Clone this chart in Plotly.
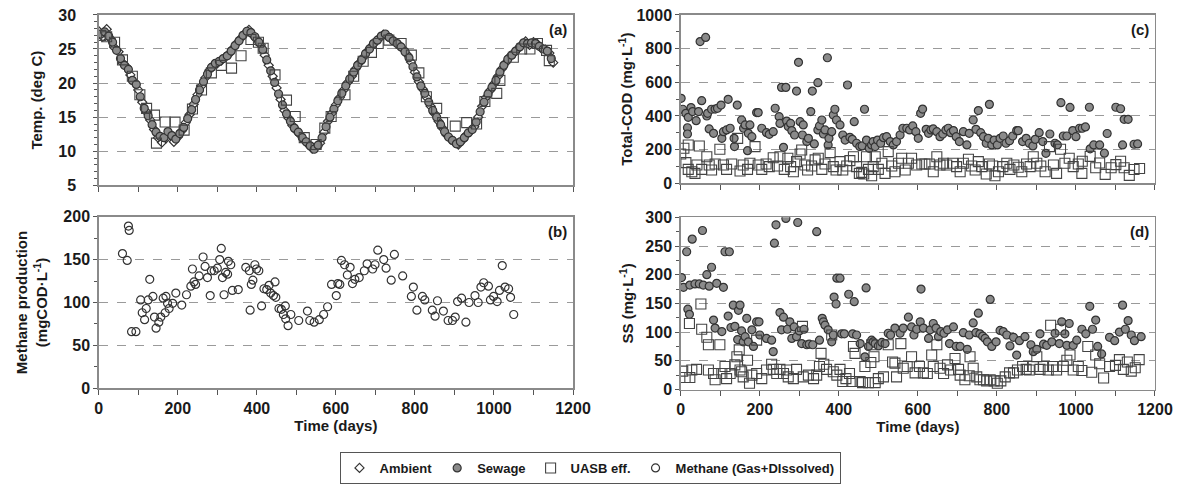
import plotly.graph_objects as go

# ---------------- (a) Temperature ----------------
amb_day = [0, 10, 20, 30, 40, 50, 60, 70, 80, 90,
           100, 110, 120, 130, 140, 150, 160, 170, 180, 190,
           200, 210, 220, 230, 240, 250, 260, 270, 280, 290,
           300, 310, 320, 330, 340, 350, 360, 370, 380, 390,
           400, 410, 420, 430, 440, 450, 460, 470, 480, 490,
           500, 510, 520, 530, 540, 550, 560, 570, 580, 590,
           600, 610, 620, 630, 640, 650, 660, 670, 680, 690,
           700, 710, 720, 730, 740, 750, 760, 770, 780, 790,
           800, 810, 820, 830, 840, 850, 860, 870, 880, 890,
           900, 910, 920, 930, 940, 950, 960, 970, 980, 990,
           1000, 1010, 1020, 1030, 1040, 1050, 1060, 1070, 1080, 1090,
           1100, 1110, 1120, 1130, 1140, 1150]
amb_temp = [27.6, 26.8, 27.9, 26.5, 25.2, 24.6, 23.0, 22.4, 21.2, 20.1,
            19.0, 17.2, 15.8, 14.6, 13.2, 12.0, 11.3, 11.9, 12.6, 11.4,
            12.1, 13.0, 14.2, 15.4, 16.9, 18.3, 19.6, 20.8, 21.9, 22.6,
            22.9, 23.3, 23.8, 24.3, 25.1, 25.9, 26.6, 27.3, 27.8, 27.0,
            26.4, 25.6, 24.1, 22.6, 21.0, 19.3, 17.6, 16.0, 14.9, 13.8,
            13.0, 12.4, 11.6, 11.0, 10.4, 10.6, 11.2, 12.8, 14.4, 15.6,
            16.8, 17.9, 19.0, 20.1, 21.0, 22.1, 23.0, 23.8, 24.7, 25.4,
            26.0, 26.6, 27.1, 26.9, 26.5, 26.0, 25.6, 25.0, 24.2, 23.1,
            21.6, 20.2, 19.1, 17.9, 16.6, 15.5, 14.4, 13.4, 12.4, 11.8,
            11.3, 11.0, 11.6, 12.4, 12.9, 13.6, 15.0, 16.6, 17.9, 18.9,
            19.9, 21.0, 22.1, 23.0, 23.9, 24.4, 25.0, 25.6, 26.1, 25.6,
            26.0, 25.7, 25.1, 24.9, 24.4, 23.0]

sew_t_day = [5, 15, 25, 35, 45, 55, 65, 75, 85, 95,
             105, 115, 125, 135, 145, 155, 165, 175, 185, 195,
             205, 215, 225, 235, 245, 255, 265, 275, 285, 295,
             305, 315, 325, 335, 345, 355, 365, 375, 385, 395,
             405, 415, 425, 435, 445, 455, 465, 475, 485, 495,
             505, 515, 525, 535, 545, 555, 565, 575, 585, 595,
             605, 615, 625, 635, 645, 655, 665, 675, 685, 695,
             705, 715, 725, 735, 745, 755, 765, 775, 785, 795,
             805, 815, 825, 835, 845, 855, 865, 875, 885, 895,
             905, 915, 925, 935, 945, 955, 965, 975, 985, 995,
             1005, 1015, 1025, 1035, 1045, 1055, 1065, 1075, 1085, 1095,
             1105, 1115, 1125, 1135, 1145]
sew_temp = [27.2, 27.5, 26.9, 26.0, 24.8, 23.6, 22.6, 22.0, 20.4, 19.8,
            18.0, 16.3, 15.2, 13.9, 12.8, 12.2, 12.0, 12.9, 12.3, 11.8,
            12.6, 13.5, 14.8, 16.1, 17.6, 19.0, 20.2, 21.3, 22.3, 22.9,
            23.2, 23.6, 24.0, 24.7, 25.5, 26.2, 27.0, 27.6, 27.4, 26.8,
            26.0, 24.9, 23.4, 21.8, 20.1, 18.4, 16.8, 15.5, 14.4, 13.4,
            12.8, 12.0, 11.4, 10.8, 10.3, 10.9, 12.0, 13.6, 15.0, 16.2,
            17.4, 18.5, 19.6, 20.6, 21.6, 22.6, 23.4, 24.3, 25.0, 25.8,
            26.3, 26.9, 27.2, 26.7, 26.2, 25.8, 25.3, 24.6, 23.7, 22.4,
            20.9, 19.6, 18.5, 17.2, 16.0, 15.0, 13.9, 12.9, 12.1, 11.6,
            11.1, 11.4, 12.0, 12.7, 13.2, 14.3, 15.8, 17.2, 18.4, 19.4,
            20.4, 21.6, 22.6, 23.5, 24.1, 24.7, 25.3, 25.9, 25.8, 25.9,
            25.8, 25.4, 25.0, 24.7, 23.6]

uasb_t_day = [5, 20, 40, 60, 85, 104, 121, 141, 146, 168,
              193, 216, 237, 260, 285, 310, 336, 360, 385, 404,
              416, 446, 475, 497, 520, 550, 572, 588, 623, 645,
              669, 690, 707, 734, 765, 791, 810, 829, 855, 870,
              902, 931, 956, 977, 1007, 1015, 1049, 1070, 1091, 1110,
              1133, 1140]
uasb_temp = [27.0, 26.8, 26.0, 23.4, 21.0, 18.3, 16.3, 15.3, 11.2, 14.3,
             14.3, 13.1, 16.2, 19.0, 21.5, 22.6, 22.2, 24.0, 26.4, 26.0,
             25.1, 21.2, 17.5, 15.1, 12.0, 11.0, 13.4, 15.1, 18.3, 21.0,
             23.2, 24.5, 25.8, 26.3, 25.8, 24.1, 21.5, 18.0, 16.3, 14.2,
             13.7, 14.2, 14.0, 17.3, 18.5, 20.4, 23.8, 25.0, 25.0, 25.8,
             24.8, 23.3]

# ---------------- (b) Methane ----------------
meth_day = [60, 72, 75, 77, 83, 94, 106, 110, 116, 120,
            125, 129, 137, 141, 145, 152, 157, 163, 168, 170,
            174, 178, 187, 195, 210, 222, 233, 237, 241, 245,
            254, 264, 269, 275, 282, 285, 292, 300, 306, 310,
            313, 317, 321, 326, 328, 334, 338, 353, 372, 381,
            383, 386, 390, 395, 399, 405, 412, 418, 425, 431,
            435, 442, 446, 448, 456, 462, 467, 472, 473, 479,
            486, 506, 528, 534, 545, 558, 569, 579, 589, 601,
            605, 610, 614, 622, 629, 636, 642, 648, 659, 672,
            679, 693, 699, 706, 721, 727, 740, 748, 769, 791,
            796, 805, 819, 825, 844, 851, 857, 872, 884, 895,
            902, 908, 918, 929, 937, 952, 960, 967, 974, 986,
            991, 999, 1008, 1014, 1021, 1028, 1037, 1042, 1050]
meth_val = [157, 149, 189, 184, 66, 66, 103, 88, 80, 93,
            103, 127, 107, 83, 70, 77, 83, 105, 88, 107,
            99, 93, 99, 111, 97, 109, 119, 139, 124, 121,
            131, 153, 142, 129, 108, 137, 137, 140, 150, 163,
            129, 109, 135, 133, 148, 144, 114, 115, 141, 137,
            91, 121, 126, 144, 139, 137, 96, 116, 115, 120,
            111, 108, 124, 106, 93, 92, 86, 96, 81, 73,
            86, 79, 90, 79, 77, 80, 86, 95, 121, 108,
            122, 121, 149, 144, 132, 141, 122, 127, 129, 137,
            145, 139, 144, 161, 150, 140, 126, 156, 131, 107,
            118, 91, 107, 103, 91, 84, 102, 90, 79, 79,
            83, 101, 105, 77, 100, 108, 100, 118, 123, 119,
            103, 107, 101, 114, 143, 118, 116, 106, 86]

# ---------------- (c) Total COD ----------------
cod_s_day = [1, 5, 13, 17, 17, 19, 26, 30, 39, 45,
             49, 53, 63, 66, 68, 72, 78, 83, 87, 93,
             102, 104, 108, 116, 120, 125, 135, 136, 143, 154,
             159, 163, 169, 171, 175, 180, 192, 196, 205, 217,
             224, 234, 239, 249, 251, 255, 260, 266, 268, 272,
             278, 281, 288, 293, 298, 302, 308, 310, 319, 323,
             329, 333, 338, 347, 347, 351, 357, 361, 365, 371,
             373, 375, 382, 386, 390, 394, 403, 410, 416, 422,
             428, 434, 439, 445, 453, 459, 465, 470, 477, 483,
             487, 492, 498, 506, 513, 521, 530, 538, 546, 555,
             562, 572, 579, 587, 595, 601, 607, 612, 621, 627,
             633, 639, 648, 656, 663, 671, 677, 683, 690, 697,
             705, 715, 724, 730, 740, 747, 753, 759, 766, 773,
             778, 781, 787, 793, 801, 808, 816, 823, 832, 840,
             850, 854, 865, 874, 882, 891, 897, 907, 916, 924,
             934, 947, 953, 962, 968, 977, 985, 992, 1000, 1009,
             1016, 1024, 1034, 1036, 1045, 1060, 1072, 1079, 1101, 1113,
             1118, 1122, 1132, 1147, 1156]
cod_s_val = [505, 440, 416, 330, 293, 392, 450, 426, 372, 426,
             842, 491, 867, 400, 416, 323, 440, 297, 441, 446,
             465, 267, 307, 317, 499, 327, 267, 218, 465, 376,
             327, 347, 194, 297, 347, 277, 420, 420, 327, 301,
             291, 307, 446, 396, 356, 570, 214, 570, 370, 337,
             356, 313, 287, 548, 719, 366, 287, 347, 248, 267,
             426, 548, 234, 598, 317, 341, 376, 293, 317, 746,
             228, 267, 307, 406, 440, 376, 347, 287, 257, 584,
             273, 261, 366, 238, 218, 222, 440, 257, 208, 228,
             248, 218, 257, 238, 271, 277, 248, 228, 248, 287,
             327, 327, 317, 341, 307, 267, 416, 441, 321, 297,
             317, 323, 307, 277, 293, 317, 327, 301, 313, 277,
             248, 307, 228, 297, 376, 321, 432, 301, 277, 238,
             267, 469, 228, 257, 228, 267, 281, 238, 253, 281,
             313, 313, 248, 267, 238, 222, 261, 301, 248, 178,
             293, 238, 228, 479, 281, 281, 451, 313, 277, 327,
             327, 335, 452, 205, 228, 228, 179, 296, 452, 443,
             228, 380, 380, 232, 234]

cod_u_day = [0, 8, 13, 19, 19, 28, 36, 41, 47, 53,
             66, 72, 78, 87, 99, 108, 116, 129, 144, 150,
             158, 169, 175, 188, 196, 205, 216, 224, 234, 245,
             251, 262, 271, 278, 285, 293, 302, 306, 314, 321,
             331, 340, 348, 357, 365, 378, 386, 393, 403, 410,
             420, 428, 437, 445, 452, 458, 463, 470, 475, 483,
             487, 492, 500, 509, 517, 525, 534, 542, 551, 559,
             568, 576, 584, 597, 610, 618, 629, 639, 648, 656,
             665, 673, 688, 698, 707, 715, 728, 736, 745, 753,
             762, 773, 781, 789, 795, 804, 815, 825, 833, 843,
             854, 863, 875, 884, 892, 901, 911, 922, 933, 943,
             951, 961, 972, 983, 993, 1006, 1015, 1016, 1036, 1050,
             1060, 1074, 1089, 1101, 1113, 1122, 1135, 1147, 1161]
cod_u_val = [174, 208, 123, 228, 83, 69, 59, 109, 222, 83,
             158, 109, 79, 115, 202, 109, 83, 115, 267, 73,
             109, 83, 119, 218, 109, 83, 115, 99, 152, 103,
             158, 83, 149, 99, 69, 129, 174, 198, 109, 79,
             103, 139, 149, 83, 115, 182, 99, 79, 129, 79,
             103, 135, 158, 99, 59, 65, 55, 158, 83, 45,
             99, 158, 83, 119, 59, 188, 103, 69, 119, 149,
             79, 119, 149, 109, 115, 115, 115, 69, 158, 109,
             119, 109, 119, 99, 69, 119, 143, 103, 79, 129,
             99, 55, 115, 103, 45, 69, 99, 119, 83, 109,
             95, 69, 115, 99, 158, 119, 103, 69, 218, 109,
             59, 202, 119, 149, 99, 115, 59, 131, 160, 92,
             121, 53, 92, 111, 131, 92, 47, 82, 88]

# ---------------- (d) SS ----------------
ss_s_day = [2, 7, 15, 18, 22, 23, 29, 36, 47, 55,
            57, 66, 72, 78, 83, 87, 91, 104, 108, 112,
            120, 123, 127, 133, 137, 144, 146, 150, 154, 158,
            163, 167, 171, 180, 184, 192, 198, 200, 217, 230,
            234, 237, 241, 251, 255, 260, 266, 270, 276, 281,
            287, 293, 296, 300, 306, 312, 319, 325, 334, 344,
            351, 358, 361, 365, 373, 382, 386, 388, 393, 395,
            403, 407, 414, 425, 435, 439, 445, 454, 466, 469,
            475, 483, 487, 492, 500, 509, 517, 525, 531, 542,
            555, 563, 576, 584, 590, 597, 606, 608, 614, 627,
            631, 639, 646, 652, 658, 666, 675, 680, 690, 697,
            707, 715, 725, 730, 740, 747, 753, 757, 764, 770,
            776, 783, 787, 798, 808, 816, 825, 833, 842, 850,
            857, 871, 886, 892, 901, 909, 918, 926, 939, 947,
            958, 964, 972, 977, 983, 993, 1002, 1015, 1025, 1035,
            1042, 1050, 1055, 1065, 1085, 1098, 1110, 1118, 1125, 1132,
            1140, 1148, 1165]
ss_s_val = [195, 178, 240, 140, 131, 182, 262, 184, 184, 277,
            182, 200, 180, 213, 121, 107, 185, 101, 178, 240,
            128, 240, 108, 147, 110, 87, 138, 147, 102, 83,
            92, 124, 83, 104, 75, 118, 118, 95, 89, 86,
            66, 255, 287, 134, 104, 126, 298, 105, 118, 89,
            109, 92, 291, 102, 80, 105, 78, 79, 78, 275,
            86, 124, 118, 112, 104, 83, 95, 161, 149, 194,
            194, 97, 97, 166, 97, 153, 95, 80, 57, 177,
            75, 86, 83, 80, 76, 82, 80, 98, 95, 107,
            98, 107, 126, 109, 95, 105, 118, 175, 107, 89,
            104, 115, 107, 92, 101, 98, 104, 80, 109, 75,
            75, 99, 70, 95, 116, 99, 133, 97, 93, 89,
            83, 157, 75, 83, 103, 101, 95, 76, 91, 60,
            85, 92, 78, 66, 70, 97, 79, 77, 83, 98,
            80, 118, 97, 77, 115, 77, 86, 105, 97, 145,
            105, 121, 75, 62, 91, 85, 100, 147, 105, 120,
            95, 85, 92]

ss_u_day = [5, 11, 22, 23, 28, 40, 51, 53, 66, 70,
            70, 83, 87, 99, 104, 112, 116, 125, 137, 142,
            148, 150, 154, 158, 169, 174, 180, 192, 192, 205,
            217, 230, 234, 243, 251, 260, 268, 272, 285, 293,
            308, 310, 323, 336, 344, 351, 355, 362, 369, 382,
            386, 395, 403, 410, 418, 427, 433, 437, 441, 454,
            460, 466, 475, 481, 483, 489, 492, 500, 513, 525,
            536, 542, 546, 557, 563, 573, 584, 593, 604, 614,
            624, 635, 639, 648, 656, 665, 675, 683, 694, 703,
            707, 719, 730, 732, 740, 749, 757, 766, 774, 783,
            793, 801, 810, 821, 832, 842, 852, 865, 874, 882,
            892, 901, 909, 918, 930, 936, 941, 951, 961, 968,
            977, 985, 993, 1006, 1015, 1030, 1040, 1050, 1060, 1070,
            1085, 1100, 1110, 1120, 1130, 1140, 1150, 1160]
ss_u_val = [32, 21, 115, 21, 34, 35, 149, 105, 91, 78,
            34, 28, 17, 78, 28, 40, 19, 28, 43, 57,
            69, 34, 31, 22, 51, 11, 25, 86, 28, 19,
            34, 44, 35, 28, 35, 28, 34, 22, 19, 35,
            110, 22, 25, 19, 25, 40, 63, 44, 35, 95,
            31, 25, 35, 14, 19, 28, 14, 75, 63, 14,
            12, 40, 12, 47, 78, 57, 12, 19, 22, 78,
            48, 46, 22, 80, 37, 40, 57, 29, 40, 29,
            28, 60, 40, 78, 37, 28, 43, 34, 54, 35,
            25, 17, 24, 57, 37, 22, 17, 17, 15, 17,
            15, 11, 15, 22, 29, 29, 34, 40, 35, 34,
            40, 57, 35, 40, 34, 112, 40, 34, 105, 40,
            51, 60, 34, 40, 33, 75, 30, 60, 45, 20,
            40, 42, 52, 35, 48, 32, 38, 52]

FONT = "Liberation Sans"
TXT = "#1a1a1a"

amb_marker = dict(symbol="diamond-open", size=7, color="#333", line=dict(width=1.2, color="#333"))
sew_marker = dict(symbol="circle", size=8, color="#8a8a8a", line=dict(width=1.2, color="#333"))
uasb_marker = dict(symbol="square-open", size=10, color="#444", line=dict(width=1.1, color="#444"))
meth_marker = dict(symbol="circle-open", size=8, color="#333", line=dict(width=1.2, color="#333"))

fig = go.Figure()
fig.add_trace(go.Scatter(x=amb_day, y=amb_temp, mode="markers", name="Ambient",
                         marker=amb_marker, xaxis="x", yaxis="y", legendgroup="amb"))
fig.add_trace(go.Scatter(x=sew_t_day, y=sew_temp, mode="markers", name="Sewage",
                         marker=sew_marker, xaxis="x", yaxis="y", legendgroup="sew"))
fig.add_trace(go.Scatter(x=uasb_t_day, y=uasb_temp, mode="markers", name="UASB eff.",
                         marker=uasb_marker, xaxis="x", yaxis="y", legendgroup="uasb"))
fig.add_trace(go.Scatter(x=meth_day, y=meth_val, mode="markers", name="Methane (Gas+DIssolved)",
                         marker=meth_marker, xaxis="x2", yaxis="y2", legendgroup="meth"))
fig.add_trace(go.Scatter(x=cod_s_day, y=cod_s_val, mode="markers", name="Sewage", showlegend=False,
                         marker=sew_marker, xaxis="x3", yaxis="y3", legendgroup="sew"))
fig.add_trace(go.Scatter(x=cod_u_day, y=cod_u_val, mode="markers", name="UASB eff.", showlegend=False,
                         marker=uasb_marker, xaxis="x3", yaxis="y3", legendgroup="uasb"))
fig.add_trace(go.Scatter(x=ss_s_day, y=ss_s_val, mode="markers", name="Sewage", showlegend=False,
                         marker=sew_marker, xaxis="x4", yaxis="y4", legendgroup="sew"))
fig.add_trace(go.Scatter(x=ss_u_day, y=ss_u_val, mode="markers", name="UASB eff.", showlegend=False,
                         marker=uasb_marker, xaxis="x4", yaxis="y4", legendgroup="uasb"))

tickfont = dict(family=FONT, size=16, color=TXT, weight="bold")
titlefont = dict(family=FONT, size=15, color=TXT, weight="bold")


def xax(domain, anchor, labels):
    d = dict(domain=domain, anchor=anchor, range=[0, 1200], showline=True, mirror=True,
             linecolor="#8a8a8a", linewidth=1.5, showgrid=False, zeroline=False,
             ticks="outside", ticklen=5, tickcolor="#555", tickwidth=1,
             tickfont=tickfont, fixedrange=True, automargin=False)
    if labels:
        d.update(dtick=200, tick0=0, minor=dict(dtick=100, ticks="outside", ticklen=5,
                                              tickcolor="#555", showgrid=False),
                 title=dict(text="Time (days)", font=titlefont, standoff=0),
                 ticklabelstandoff=0)
    else:
        d.update(dtick=100, tick0=0, showticklabels=False)
    return d


def yax(domain, anchor, rng, dtick, mdtick, title, standoff, lstand):
    return dict(domain=domain, anchor=anchor, range=rng, dtick=dtick, tick0=rng[0],
                showline=True, mirror=True, linecolor="#8a8a8a", linewidth=1.5,
                showgrid=True, gridcolor="#9a9a9a", griddash="dash", gridwidth=1,
                zeroline=False, ticks="outside", ticklen=4, tickcolor="#555",
                tickfont=tickfont, ticklabelstandoff=lstand, automargin=False,
                minor=dict(dtick=mdtick, ticks="outside", ticklen=3, tickcolor="#555", showgrid=False),
                title=dict(text=title, font=titlefont, standoff=standoff), fixedrange=True)


LX = [0.0837, 0.4856]
RX = [0.5769, 0.9788]

fig.update_layout(
    width=1180, height=490,
    margin=dict(l=0, r=0, t=0, b=0, pad=0, autoexpand=False),
    paper_bgcolor="white", plot_bgcolor="white",
    font=dict(family=FONT, color=TXT),
    xaxis=xax(LX, "y", False),
    yaxis=yax([0.6216, 0.9696], "x", [5, 30], 5, 1, "Temp. (deg C)", 12, 14),
    xaxis2=xax(LX, "y2", True),
    yaxis2=yax([0.2076, 0.5578], "x2", [0, 200], 50, 25,
               "Methane production<br>(mgCOD·L<sup>-1</sup>)", 12, 0),
    xaxis3=xax(RX, "y3", False),
    yaxis3=yax([0.6259, 0.9694], "x3", [0, 1000], 200, 100,
               "Total-COD (mg·L<sup>-1</sup>)", 0, 0),
    xaxis4=xax(RX, "y4", True),
    yaxis4=yax([0.2051, 0.5565], "x4", [0, 300], 50, 25,
               "SS (mg·L<sup>-1</sup>)", 8, 0),
    showlegend=True,
    legend=dict(orientation="h", x=0.5, xanchor="center", y=0.0776, yanchor="top",
                bordercolor="#555", borderwidth=1, bgcolor="white",
                font=dict(family=FONT, size=13, color=TXT, weight="bold"),
                itemwidth=30, tracegroupgap=0),
)

for lab, xr, yr in [("(a)", "x domain", "y domain"), ("(b)", "x2 domain", "y2 domain"),
                    ("(c)", "x3 domain", "y3 domain"), ("(d)", "x4 domain", "y4 domain")]:
    fig.add_annotation(text=lab, xref=xr, yref=yr, x=1, y=1, xanchor="right", yanchor="top",
                       xshift=-4, yshift=-4, showarrow=False,
                       font=dict(family=FONT, size=15, color=TXT, weight="bold"))

fig.write_html("out.html",
               config={"displayModeBar": False, "staticPlot": True},
               post_script="document.body.style.margin='0';document.body.style.overflow='hidden';")
